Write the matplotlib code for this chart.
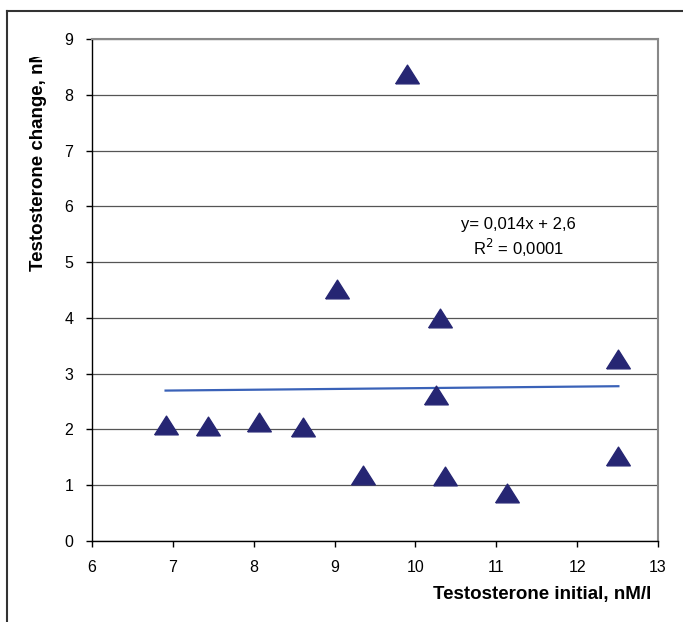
import matplotlib.pyplot as plt
import numpy as np
from matplotlib.lines import Line2D
from matplotlib.transforms import Bbox

plt.rcParams['font.family'] = ['Liberation Sans', 'DejaVu Sans']

# values
t_initial = [6.91, 7.43, 8.06, 8.61, 9.03, 9.35, 9.89, 10.26, 10.31, 10.37, 11.13, 12.51, 12.51]
t_change = [2.08, 2.07, 2.14, 2.04, 4.52, 1.18, 8.37, 2.62, 4.00, 1.17, 0.86, 3.26, 1.52]
slope, intercept = 0.014, 2.6
eq_text = 'y= 0,014x + 2,6'
r2_text = 'R$^2$ = 0,0001'

fig = plt.figure(figsize=(6.83, 6.22), dpi=100)
ax = fig.add_axes([92/683, 81/622, 566/683, 502/622])

# excel style triangle (wider than tall)
tri = [(-12, -9.5), (12, -9.5), (0, 9.5), (-12, -9.5)]
ax.plot(t_initial, t_change, linestyle='none', marker=tri, markersize=17,
        color='#262673', zorder=3)

xs = np.array([min(t_initial), max(t_initial)])
ax.plot(xs, slope*xs + intercept, color='#3a62b8', lw=1.6, zorder=2)

ax.text(11.27, 5.68, eq_text, ha='center', va='center', fontsize=12)
ax.text(11.27, 5.25, r2_text, ha='center', va='center', fontsize=12)

ax.set_xlim(6, 13)
ax.set_ylim(0, 9)
ax.set_xticks(range(6, 14))
ax.set_yticks(range(0, 10))
ax.yaxis.grid(True, color='#555555', lw=0.9)
ax.set_axisbelow(True)
ax.tick_params(direction='out', length=4.5, width=1, labelsize=11.5, color='black')
ax.tick_params(axis='x', pad=9)
ax.tick_params(axis='y', pad=9)
for s in ['left', 'bottom']:
    ax.spines[s].set_color('black')
    ax.spines[s].set_linewidth(1.0)
for s in ['top', 'right']:
    ax.spines[s].set_color('#888888')
    ax.spines[s].set_linewidth(1.5)

fig.text(651/683, 1 - 595/622, 'Testosterone initial, nM/l', ha='right', va='center',
         fontsize=13.5, fontweight='bold')
ylab = fig.text(39/683, 1 - 271/622, 'Testosterone change, nM/l', rotation=90,
                ha='center', va='bottom', fontsize=13.5, fontweight='bold')
ylab.set_clip_box(Bbox([[0, 0], [683, 622 - 57]]))
ylab.set_clip_on(True)

# outer chart frame
fig.add_artist(Line2D([7/683, 1], [1 - 11/622, 1 - 11/622], color='#333333', lw=1.5))
fig.add_artist(Line2D([7/683, 7/683], [0, 1 - 11/622], color='#333333', lw=1.5))

fig.savefig('out.png', dpi=100)
